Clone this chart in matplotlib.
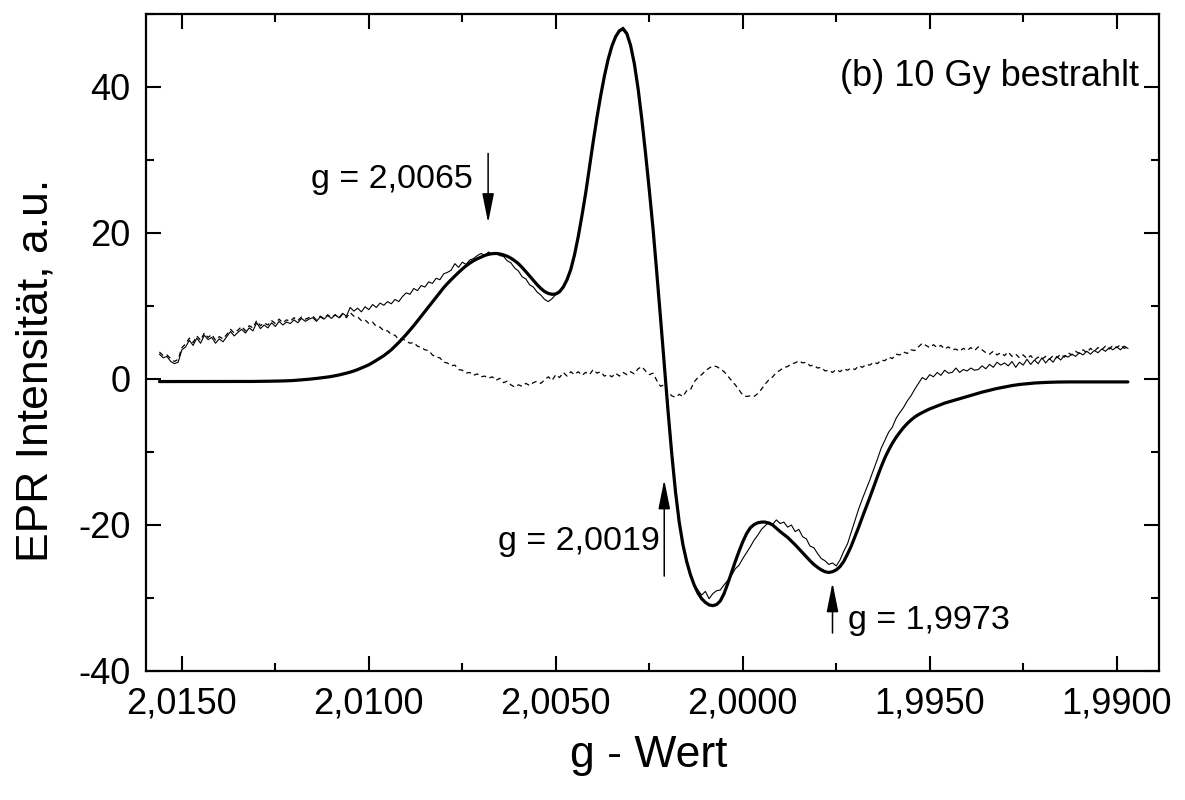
import numpy as np
import matplotlib
matplotlib.use("Agg")
import matplotlib.pyplot as plt
from matplotlib.ticker import MultipleLocator, FuncFormatter

plt.rcParams['font.family'] = ['Liberation Sans', 'DejaVu Sans']
plt.rcParams['axes.unicode_minus'] = False

# ---------------- data ----------------
# g axis sampling of the spectra (start value, step)
g_start = 2.0156
g_step = 0.0001

# experimental spectrum (thin line)
experiment = [
    3.4, 2.9, 3.1, 2.4, 2.1, 2.3, 4.0, 4.4, 5.3, 4.6,
    5.6, 4.9, 6.0, 5.4, 5.7, 4.9, 5.5, 5.1, 5.8, 6.5,
    5.9, 6.4, 6.8, 6.3, 7.0, 6.6, 7.7, 6.9, 7.4, 7.0,
    7.7, 7.2, 7.9, 7.4, 7.8, 7.6, 8.1, 7.7, 8.3, 7.9,
    8.2, 8.4, 7.9, 8.5, 8.2, 8.7, 8.3, 8.8, 8.4, 9.0,
    8.6, 9.8, 9.3, 9.7, 9.2, 9.9, 9.5, 10.2, 9.8, 10.4,
    10.1, 10.6, 10.3, 10.9, 10.6, 11.3, 11.8, 11.6, 12.4, 12.1,
    12.8, 12.6, 13.3, 13.1, 13.8, 13.6, 14.4, 14.6, 14.9, 15.8,
    15.3, 16.0, 15.7, 16.3, 16.5, 16.9, 17.2, 16.9, 17.4, 17.1,
    17.3, 16.9, 16.8, 16.2, 15.9, 15.2, 14.8, 14.0, 13.7, 12.9,
    12.6, 11.9, 11.5, 10.9, 10.6, 11.0, 11.6, 11.9, 12.6, 13.6,
    15.0, 17.0, 19.5, 22.4, 25.5, 29.0, 32.5, 35.8, 38.8, 41.6,
    43.8, 45.6, 46.9, 47.8, 48.2, 47.5, 45.8, 43.2, 39.8, 35.8,
    31.2, 26.0, 20.6, 14.9, 8.8, 2.6, -3.6, -9.5, -15.0, -19.6,
    -23.0, -25.3, -27.0, -28.2, -28.9, -29.6, -29.1, -30.1, -29.4, -29.0,
    -28.9, -28.2, -27.6, -26.9, -26.0, -25.5, -24.6, -23.8, -23.0, -22.1,
    -21.4, -20.6, -20.1, -19.6, -19.9, -19.3, -19.8, -19.6, -20.3, -20.0,
    -20.9, -20.6, -21.6, -21.9, -22.9, -23.1, -23.9, -24.6, -24.9, -25.4,
    -25.2, -25.6, -24.8, -23.6, -22.6, -21.0, -19.4, -17.8, -16.4, -15.1,
    -13.8, -12.4, -11.0, -9.5, -8.4, -7.3, -6.6, -5.4, -4.6, -3.9,
    -3.0, -2.3, -1.4, -0.6, 0.2, -0.1, 0.6, 0.3, 0.9, 0.5,
    1.2, 0.8, 0.9, 1.5, 0.9, 1.3, 1.1, 1.5, 1.2, 1.3,
    1.8, 1.4, 2.0, 1.6, 2.3, 1.9, 2.2, 1.8, 2.4, 1.6,
    2.3, 1.9, 2.7, 2.0, 2.6, 2.1, 2.9, 2.2, 2.8, 2.3,
    3.1, 2.6, 3.2, 3.0, 3.4, 3.1, 3.6, 3.3, 3.8, 3.4,
    3.9, 3.6, 4.1, 3.8, 4.3, 4.0, 4.4, 4.0, 4.5, 4.2,
]

# difference spectrum experiment - simulation (dashed line)
difference = [
    3.7, 3.2, 3.3, 2.8, 2.4, 2.7, 4.3, 4.8, 5.6, 5.0,
    5.9, 5.3, 6.3, 5.7, 6.1, 5.3, 5.8, 5.5, 6.1, 6.8,
    6.3, 6.7, 7.2, 6.6, 7.3, 7.0, 8.0, 7.3, 7.7, 7.4,
    8.0, 7.6, 8.2, 7.7, 8.1, 7.9, 8.4, 8.0, 8.5, 8.2,
    8.4, 8.6, 8.1, 8.6, 8.3, 8.8, 8.4, 8.8, 8.3, 8.9,
    8.4, 9.1, 8.6, 8.5, 8.0, 8.1, 7.6, 7.8, 7.2, 7.1,
    6.6, 6.6, 6.1, 6.0, 5.4, 5.5, 5.2, 4.9, 5.0, 4.5,
    4.3, 4.0, 3.9, 3.3, 3.0, 2.9, 2.3, 2.2, 1.8, 1.9,
    1.3, 1.2, 0.8, 0.9, 0.5, 0.7, 0.3, 0.4, 0.1, 0.3,
    -0.2, 0.1, -0.5, -0.3, -0.8, -1.1, -0.8, -1.0, -0.6, -0.9,
    -0.5, -0.3, -0.6, -0.1, 0.3, -0.2, 0.6, 0.2, 0.9, 0.4,
    1.0, 0.6, 1.0, 0.5, 0.9, 0.6, 1.3, 0.8, 1.0, 0.4,
    0.6, 0.3, 0.8, 0.4, 0.9, 0.6, 1.0, 0.7, 1.4, 1.7,
    1.1, 0.6, 0.8, -0.2, -1.0, -0.8, -1.8, -2.3, -2.5, -2.1,
    -2.4, -1.6, -1.5, -0.4, 0.2, 0.6, 1.1, 1.5, 1.8, 1.7,
    1.4, 1.0, 0.4, -0.2, -0.8, -1.5, -2.2, -2.4, -2.3, -2.4,
    -2.0, -1.4, -0.7, -0.1, 0.3, 0.9, 1.2, 1.6, 1.7, 2.1,
    2.2, 2.5, 2.2, 2.3, 1.8, 1.9, 1.5, 1.6, 1.1, 1.2,
    0.9, 1.3, 1.0, 1.4, 1.2, 1.5, 1.3, 1.8, 1.6, 2.0,
    1.9, 2.3, 2.1, 2.6, 2.5, 3.0, 2.8, 3.4, 3.3, 3.7,
    3.5, 4.0, 3.9, 4.4, 4.9, 4.6, 4.3, 4.7, 4.3, 4.6,
    4.1, 4.4, 4.0, 4.1, 3.8, 4.2, 3.9, 4.3, 3.9, 4.4,
    4.0, 3.6, 3.4, 3.8, 3.3, 3.6, 3.2, 3.7, 3.1, 3.4,
    2.9, 3.3, 2.8, 3.2, 2.6, 3.0, 2.7, 3.1, 2.7, 3.2,
    2.9, 3.4, 3.0, 3.6, 3.3, 3.8, 3.5, 4.0, 3.6, 4.2,
    3.8, 4.3, 4.0, 4.5, 4.1, 4.6, 4.3, 4.7, 4.2, 4.4,
]

# simulated spectrum (thick line)
simulation = [
    -0.35, -0.35, -0.35, -0.35, -0.35, -0.35, -0.35, -0.35, -0.35, -0.35,
    -0.35, -0.35, -0.35, -0.35, -0.35, -0.35, -0.35, -0.35, -0.35, -0.35,
    -0.35, -0.35, -0.35, -0.345, -0.34, -0.335, -0.33, -0.325, -0.32, -0.31,
    -0.30, -0.29, -0.28, -0.265, -0.25, -0.23, -0.20, -0.16, -0.12, -0.08,
    -0.03, 0.02, 0.08, 0.14, 0.20, 0.27, 0.35, 0.45, 0.55, 0.67,
    0.80, 0.94, 1.10, 1.29, 1.50, 1.72, 1.95, 2.24, 2.55, 2.87,
    3.20, 3.59, 4.00, 4.49, 5.00, 5.54, 6.10, 6.69, 7.30, 7.94,
    8.60, 9.25, 9.90, 10.55, 11.2, 11.85, 12.5, 13.07, 13.6, 14.1,
    14.6, 15.07, 15.5, 15.87, 16.2, 16.47, 16.7, 16.92, 17.08, 17.17,
    17.2, 17.14, 17.0, 16.82, 16.55, 16.2, 15.8, 15.27, 14.7, 14.1,
    13.5, 12.92, 12.4, 11.98, 11.72, 11.6, 11.65, 11.95, 12.6, 13.6,
    15.0, 17.0, 19.5, 22.4, 25.5, 29.0, 32.5, 35.8, 38.8, 41.5,
    43.8, 45.6, 46.9, 47.7, 47.95, 47.3, 45.7, 43.2, 39.8, 35.6,
    30.9, 25.9, 20.6, 14.6, 8.4, 2.0, -4.3, -10.2, -15.4, -19.6,
    -22.7, -25.0, -26.8, -28.2, -29.3, -30.1, -30.6, -30.95, -31.05, -30.9,
    -30.4, -29.4, -28.0, -26.5, -25.0, -23.6, -22.3, -21.2, -20.4, -19.95,
    -19.7, -19.6, -19.6, -19.75, -20.0, -20.45, -20.9, -21.3, -21.7, -22.2,
    -22.7, -23.25, -23.8, -24.35, -24.9, -25.4, -25.8, -26.15, -26.4, -26.5,
    -26.4, -26.15, -25.7, -25.0, -24.0, -22.9, -21.6, -20.3, -18.9, -17.55,
    -16.2, -14.8, -13.4, -12.05, -10.8, -9.75, -8.8, -8.0, -7.3, -6.65,
    -6.1, -5.62, -5.2, -4.88, -4.6, -4.34, -4.1, -3.9, -3.7, -3.5,
    -3.3, -3.15, -3.0, -2.85, -2.7, -2.55, -2.4, -2.25, -2.1, -1.95,
    -1.8, -1.67, -1.55, -1.42, -1.3, -1.2, -1.1, -1.0, -0.9, -0.82,
    -0.75, -0.7, -0.65, -0.6, -0.55, -0.52, -0.5, -0.47, -0.45, -0.43,
    -0.42, -0.41, -0.4, -0.4, -0.4, -0.4, -0.4, -0.4, -0.4, -0.4,
    -0.4, -0.4, -0.4, -0.4, -0.4, -0.4, -0.4, -0.4, -0.4, -0.4,
]

# annotations: label, text position, arrow position
ann_labels = ["g = 2,0065", "g = 2,0019", "g = 1,9973"]
ann_text_g = [2.00721, 2.00223, 1.99718]
ann_text_y = [26.2, -23.4, -34.3]
ann_text_ha = ["right", "right", "left"]
ann_arrow_g = [2.00681, 2.00210, 1.99760]
ann_arrow_tail = [30.9, -27.0, -34.8]
ann_arrow_tip = [21.4, -13.8, -27.9]

title_text = "(b) 10 Gy bestrahlt"

x_ticks = [2.0150, 2.0100, 2.0050, 2.0000, 1.9950, 1.9900]
y_ticks = [-40, -20, 0, 20, 40]

# ---------------- figure ----------------
fig = plt.figure(figsize=(11.85, 8.0), dpi=100)
ax = fig.add_axes([0.1232, 0.16125, 0.8548, 0.82125])

g_exp = g_start - g_step * np.arange(len(experiment))
g_dif = g_start - g_step * np.arange(len(difference))
g_sim = g_start - g_step * np.arange(len(simulation))

ax.plot(g_exp, experiment, color='black', lw=0.8, zorder=2)
ax.plot(g_dif, difference, color='black', lw=0.9, ls=(0, (4, 3)), zorder=2)
ax.plot(g_sim, simulation, color='black', lw=2.3, zorder=3,
        solid_joinstyle='round', solid_capstyle='round')

ax.set_xlim(2.01596, 1.98887)
ax.set_ylim(-40, 50)

ax.set_xticks(x_ticks)
ax.set_yticks(y_ticks)
ax.xaxis.set_minor_locator(MultipleLocator(0.0025))
ax.yaxis.set_minor_locator(MultipleLocator(10))
ax.xaxis.set_major_formatter(FuncFormatter(lambda v, p: f"{v:.4f}".replace('.', ',')))
ax.yaxis.set_major_formatter(FuncFormatter(lambda v, p: f"{v:.0f}"))

ax.tick_params(which='both', direction='in', top=True, right=True,
               width=1.5, labelsize=26, pad=11)
ax.tick_params(which='major', length=10.5)
ax.tick_params(which='minor', length=6)
for s in ax.spines.values():
    s.set_linewidth(1.6)

for lab, tg, ty, ha, agx, atail, atip in zip(ann_labels, ann_text_g, ann_text_y,
                                            ann_text_ha, ann_arrow_g,
                                            ann_arrow_tail, ann_arrow_tip):
    ax.text(tg, ty, lab, ha=ha, va='baseline', fontsize=24.5)
    ax.annotate('', xy=(agx, atip), xytext=(agx, atail),
                arrowprops=dict(arrowstyle='-|>,head_length=1.8,head_width=0.36',
                                mutation_scale=10, lw=1.1, color='black',
                                shrinkA=0, shrinkB=0))

ax.text(1.98940, 40.1, title_text, ha='right', va='baseline', fontsize=26)

fig.text(0.5477, 0.04125, "g - Wert", ha='center', va='baseline', fontsize=32)
fig.text(0.0304, 0.5375, "EPR Intensität, a.u.", ha='center', va='center',
         rotation=90, fontsize=32)

fig.savefig("out.png", dpi=100)
